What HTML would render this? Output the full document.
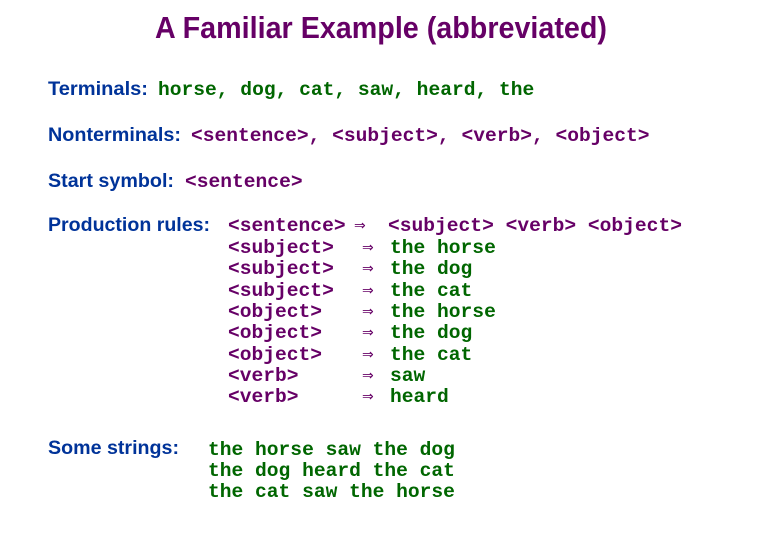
<!DOCTYPE html>
<html><head><meta charset="utf-8"><style>
html,body{margin:0;padding:0;background:#fff;width:759px;height:541px;overflow:hidden}
svg text{font-weight:bold}
.l{font-family:"Liberation Sans",Arial,sans-serif;font-size:19px;fill:#003399}
.m{font-family:"Liberation Mono","Courier New",monospace;font-size:19.6px}
.g{fill:#006600}.p{fill:#660066}
svg text.a{font-family:"DejaVu Sans",sans-serif;font-size:14px;fill:#660066;font-weight:normal}
</style></head><body>
<svg width="759" height="541" xmlns="http://www.w3.org/2000/svg">
<text x="155" y="38" textLength="452" lengthAdjust="spacingAndGlyphs" style="font-family:'Liberation Sans',Arial,sans-serif;font-size:31px;font-weight:bold;fill:#660066">A Familiar Example (abbreviated)</text>

<text class="l" x="48" y="95" textLength="100" lengthAdjust="spacingAndGlyphs">Terminals:</text>
<text class="m g" x="158" y="95">horse, dog, cat, saw, heard, the</text>

<text class="l" x="48" y="141" textLength="133" lengthAdjust="spacingAndGlyphs">Nonterminals:</text>
<text class="m p" x="191" y="141">&lt;sentence&gt;, &lt;subject&gt;, &lt;verb&gt;, &lt;object&gt;</text>

<text class="l" x="48" y="187" textLength="126" lengthAdjust="spacingAndGlyphs">Start symbol:</text>
<text class="m p" x="185" y="187">&lt;sentence&gt;</text>

<text class="l" x="48" y="231" textLength="162" lengthAdjust="spacingAndGlyphs">Production rules:</text>
<text class="m p" x="228" y="231">&lt;sentence&gt;</text><text class="a" x="354" y="230">⇒</text><text class="m p" x="388" y="231">&lt;subject&gt; &lt;verb&gt; &lt;object&gt;</text>

<g class="m p">
<text x="228" y="253">&lt;subject&gt;</text>
<text x="228" y="274">&lt;subject&gt;</text>
<text x="228" y="296">&lt;subject&gt;</text>
<text x="228" y="317">&lt;object&gt;</text>
<text x="228" y="338">&lt;object&gt;</text>
<text x="228" y="360">&lt;object&gt;</text>
<text x="228" y="381">&lt;verb&gt;</text>
<text x="228" y="402">&lt;verb&gt;</text>
</g>
<text class="a" x="362" y="252">⇒</text><text class="a" x="362" y="273">⇒</text><text class="a" x="362" y="295">⇒</text>
<text class="a" x="362" y="316">⇒</text><text class="a" x="362" y="337">⇒</text><text class="a" x="362" y="359">⇒</text>
<text class="a" x="362" y="380">⇒</text><text class="a" x="362" y="401">⇒</text>
<g class="m g">
<text x="390" y="253">the horse</text>
<text x="390" y="274">the dog</text>
<text x="390" y="296">the cat</text>
<text x="390" y="317">the horse</text>
<text x="390" y="338">the dog</text>
<text x="390" y="360">the cat</text>
<text x="390" y="381">saw</text>
<text x="390" y="402">heard</text>
</g>

<text class="l" x="48" y="454" textLength="131" lengthAdjust="spacingAndGlyphs">Some strings:</text>
<g class="m g">
<text x="208" y="455">the horse saw the dog</text>
<text x="208" y="476">the dog heard the cat</text>
<text x="208" y="497">the cat saw the horse</text>
</g>
</svg>
</body></html>
